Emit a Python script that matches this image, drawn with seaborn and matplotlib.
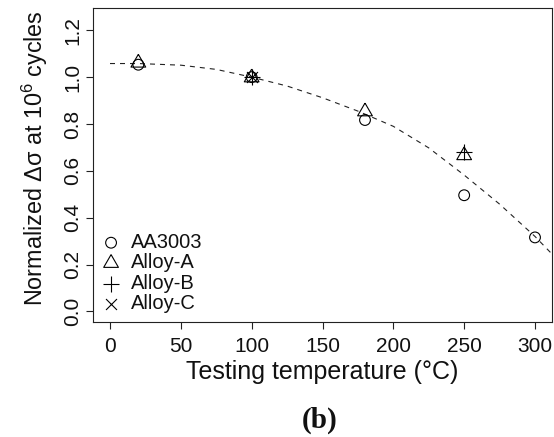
import numpy as np
import pandas as pd
import matplotlib
matplotlib.use("Agg")
import matplotlib.pyplot as plt
import seaborn as sns

# Measured fatigue strength at 10^6 cycles, normalised to room temperature
temp_aa3003 = [20, 100, 180, 250, 300]
ds_aa3003 = [1.053, 1.00, 0.817, 0.496, 0.316]

temp_alloy_a = [20, 100, 180, 250]
ds_alloy_a = [1.061, 0.998, 0.853, 0.666]

temp_alloy_b = [100, 250]
ds_alloy_b = [1.00, 0.682]

temp_alloy_c = [100]
ds_alloy_c = [1.00]

# Trend curve through all alloys
trend_temp = [0, 20, 50, 75, 100, 125, 150, 175, 200, 225, 250, 275, 300, 312]
trend_ds = [1.058, 1.058, 1.051, 1.033, 1.000, 0.962, 0.912, 0.855, 0.790, 0.698,
            0.582, 0.458, 0.320, 0.245]

sns.set_style("white")
plt.rcParams["font.family"] = ["Liberation Sans", "DejaVu Sans"]
plt.rcParams["mathtext.fontset"] = "custom"
plt.rcParams["mathtext.rm"] = "Liberation Sans"
plt.rcParams["mathtext.it"] = "Liberation Sans"

fig = plt.figure(figsize=(5.54, 4.37), dpi=100)
ax = fig.add_axes([93 / 554, 1 - 322 / 437, (552 - 93) / 554, (322 - 8) / 437])

trend = pd.DataFrame({"T": trend_temp, "ds": trend_ds})
sns.lineplot(data=trend, x="T", y="ds", ax=ax, color="#222222", lw=0.8,
             dashes=False, linestyle=(0, (4.5, 4.5)), sort=False)

# triangle with its centroid on the data point
tri = [(0, 1), (-0.866, -0.5), (0.866, -0.5), (0, 1)]

series = [
    ("AA3003", temp_aa3003, ds_aa3003, "o", 60, True),
    ("Alloy-A", temp_alloy_a, ds_alloy_a, tri, 150, True),
    ("Alloy-B", temp_alloy_b, ds_alloy_b, "+", 125, False),
    ("Alloy-C", temp_alloy_c, ds_alloy_c, "x", 62, False),
]
for name, t, v, mk, size, hollow in series:
    df = pd.DataFrame({"T": t, "ds": v})
    if hollow:
        sns.scatterplot(data=df, x="T", y="ds", ax=ax, marker=mk, s=size,
                        facecolor="none", edgecolor="black", linewidth=0.8,
                        label=name, zorder=3)
    else:
        sns.scatterplot(data=df, x="T", y="ds", ax=ax, marker=mk, s=size,
                        color="black", linewidth=0.8, label=name, zorder=3)

ax.set_xlim(-12, 312)
ax.set_ylim(-0.045, 1.295)
ax.set_xticks([0, 50, 100, 150, 200, 250, 300])
ax.set_yticks([0.0, 0.2, 0.4, 0.6, 0.8, 1.0, 1.2])
ax.set_yticklabels(["0.0", "0.2", "0.4", "0.6", "0.8", "1.0", "1.2"])

for side in ["top", "right", "left", "bottom"]:
    ax.spines[side].set_visible(True)
    ax.spines[side].set_color("#222222")
    ax.spines[side].set_linewidth(0.8)

ax.tick_params(axis="both", direction="out", length=5, width=0.8,
               color="#222222", labelsize=15, labelcolor="#111111",
               bottom=True, left=True)
ax.tick_params(axis="x", pad=6)
ax.tick_params(axis="y", pad=3)
plt.setp(ax.get_yticklabels(), rotation=90, va="center")

ax.set_xlabel("Testing temperature (°C)", fontsize=18, color="#111111", labelpad=3)
ax.set_ylabel("Normalized Δσ at 10$^6$ cycles", fontsize=16.8, color="#111111")
ax.yaxis.set_label_coords(-0.093, 0.5 + 7 / 314)

leg = ax.legend(loc="upper left", bbox_to_anchor=((102 - 93) / 459, (322 - 233) / 314),
                frameon=False, fontsize=14.5, borderpad=0, borderaxespad=0,
                handlelength=0.9, handletextpad=0.55, labelspacing=0.07,
                scatterpoints=1)
for txt in leg.get_texts():
    txt.set_color("#111111")

fig.text(320 / 554, 1 - 420 / 437, "(b)", ha="center", va="center",
         fontsize=21, fontweight="bold", family=["Liberation Serif", "DejaVu Serif"],
         color="#111111")

fig.savefig("out.png", dpi=100)
